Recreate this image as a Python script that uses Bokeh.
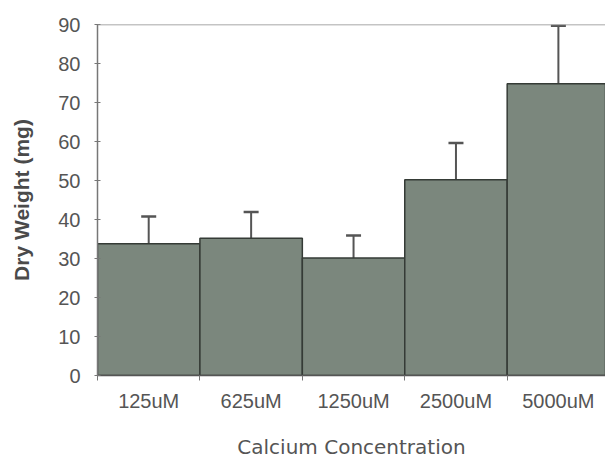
from bokeh.plotting import figure
from bokeh.models import ColumnDataSource, Whisker, TeeHead, FixedTicker, Span, Range1d
from bokeh.embed import file_html
from bokeh.resources import INLINE

categories = ["125uM", "625uM", "1250uM", "2500uM", "5000uM"]
dry_weight = [33.8, 35.2, 30.1, 50.2, 74.8]
error_up = [7.0, 6.7, 5.8, 9.4, 14.9]
y_ticks = [0, 10, 20, 30, 40, 50, 60, 70, 80, 90]

xs = [i + 0.5 for i in range(len(categories))]
upper = [v + e for v, e in zip(dry_weight, error_up)]
src = ColumnDataSource(dict(x=xs, top=dry_weight, upper=upper))

FONT = "Liberation Sans"
p = figure(width=605, height=461, output_backend="svg", toolbar_location=None,
           x_range=Range1d(0, 4.96), y_range=Range1d(0, 90),
           min_border_left=97, min_border_top=24, min_border_bottom=86, min_border_right=0)
p.outline_line_color = None
p.background_fill_color = "white"
p.border_fill_color = "white"
p.xgrid.visible = False
p.ygrid.visible = False

p.vbar(x="x", top="top", width=1.0, bottom=0, source=src,
       fill_color="#7b877d", line_color="#353b36", line_width=1.5)

wh = Whisker(source=src, base="x", lower="top", upper="upper",
             line_color="#555555", line_width=2,
             upper_head=TeeHead(size=15, line_color="#555555", line_width=2.5),
             lower_head=None)
p.add_layout(wh)

p.add_layout(Span(location=90, dimension="width", line_color="#8a8a8a", line_width=1.5))

# y axis
p.yaxis.ticker = FixedTicker(ticks=y_ticks)
p.yaxis.axis_line_color = "#777777"
p.yaxis.axis_line_width = 1.5
p.yaxis.major_tick_line_color = "#777777"
p.yaxis.major_tick_out = 3
p.yaxis.major_tick_in = 3
p.yaxis.minor_tick_line_color = None
p.yaxis.major_label_text_font = FONT
p.yaxis.major_label_text_font_size = "20px"
p.yaxis.major_label_text_color = "#555555"
p.yaxis.major_label_standoff = 14
p.yaxis.axis_label = "Dry Weight (mg)"
p.yaxis.axis_label_text_font = FONT
p.yaxis.axis_label_text_font_style = "bold"
p.yaxis.axis_label_text_font_size = "21px"
p.yaxis.axis_label_text_color = "#4a4a4a"
p.yaxis.axis_label_standoff = 22

# x axis
p.xaxis.ticker = FixedTicker(ticks=xs, minor_ticks=[0, 1, 2, 3, 4, 5])
p.xaxis.major_label_overrides = {x: c for x, c in zip(xs, categories)}
p.xaxis.axis_line_color = "#555555"
p.xaxis.axis_line_width = 1.5
p.xaxis.major_tick_line_color = None
p.xaxis.major_tick_out = 0
p.xaxis.major_tick_in = 0
p.xaxis.minor_tick_line_color = "#777777"
p.xaxis.minor_tick_out = 5
p.xaxis.minor_tick_in = 0
p.xaxis.major_label_text_font = FONT
p.xaxis.major_label_text_font_size = "20px"
p.xaxis.major_label_text_color = "#555555"
p.xaxis.major_label_standoff = 9
p.xaxis.axis_label = "Calcium Concentration"
p.xaxis.axis_label_text_font = "DejaVu Sans"
p.xaxis.axis_label_text_font_style = "normal"
p.xaxis.axis_label_text_font_size = "20px"
p.xaxis.axis_label_text_color = "#555555"
p.xaxis.axis_label_standoff = 20

open("out.html", "w").write(file_html(p, INLINE))
